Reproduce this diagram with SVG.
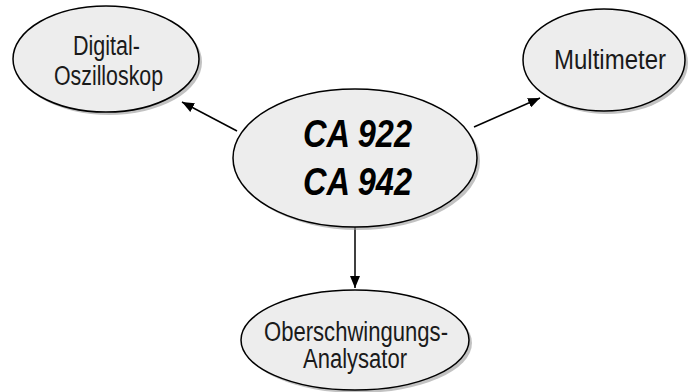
<svg xmlns="http://www.w3.org/2000/svg" width="689" height="392" viewBox="0 0 689 392">
<style>
.sh{fill:#9a9a9a;opacity:0.6}
.el{fill:#ededed;stroke:#000;stroke-width:1.5}
.t{font-family:"Liberation Sans",Arial,sans-serif;font-size:27px;fill:#1a1a1a}
.b{font-family:"Liberation Sans",Arial,sans-serif;font-size:38px;font-weight:bold;font-style:italic;fill:#000}
.c{stroke:#000;stroke-width:1.5;fill:none;marker-end:url(#ah)}
</style>
<defs>
<marker id="ah" viewBox="0 0 12 10" refX="12" refY="5" markerWidth="12" markerHeight="10" markerUnits="userSpaceOnUse" orient="auto">
<path d="M0,0 L12,5 L0,10 z" fill="#000"/>
</marker>
</defs>
<g id="connectors">
<line class="c" x1="237" y1="131" x2="182" y2="102"/>
<line class="c" x1="474" y1="127" x2="540" y2="98"/>
<line class="c" x1="355" y1="227" x2="355" y2="288"/>
</g>
<g id="oszilloskop">
<ellipse class="sh" cx="109" cy="62" rx="93" ry="53"/>
<ellipse class="el" cx="106" cy="59" rx="93" ry="53"/>
<text class="t" x="73" y="55" textLength="67" lengthAdjust="spacingAndGlyphs">Digital-</text>
<text class="t" x="54" y="85" textLength="109" lengthAdjust="spacingAndGlyphs">Oszilloskop</text>
</g>
<g id="multimeter">
<ellipse class="sh" cx="607" cy="63" rx="81" ry="51"/>
<ellipse class="el" cx="604" cy="60" rx="81" ry="51"/>
<text class="t" x="554" y="69" font-size="25" textLength="112" lengthAdjust="spacingAndGlyphs">Multimeter</text>
</g>
<g id="ca">
<ellipse class="sh" cx="358" cy="161" rx="122" ry="69"/>
<ellipse class="el" cx="355" cy="158" rx="122" ry="69"/>
<text class="b" x="303" y="147" textLength="109" lengthAdjust="spacingAndGlyphs">CA 922</text>
<text class="b" x="303" y="195" textLength="109" lengthAdjust="spacingAndGlyphs">CA 942</text>
</g>
<g id="analysator">
<ellipse class="sh" cx="358" cy="343" rx="114" ry="50"/>
<ellipse class="el" cx="355" cy="340" rx="114" ry="50"/>
<text class="t" x="264" y="341" font-size="25" textLength="184" lengthAdjust="spacingAndGlyphs">Oberschwingungs-</text>
<text class="t" x="303" y="368" font-size="25" textLength="104" lengthAdjust="spacingAndGlyphs">Analysator</text>
</g>
</svg>
